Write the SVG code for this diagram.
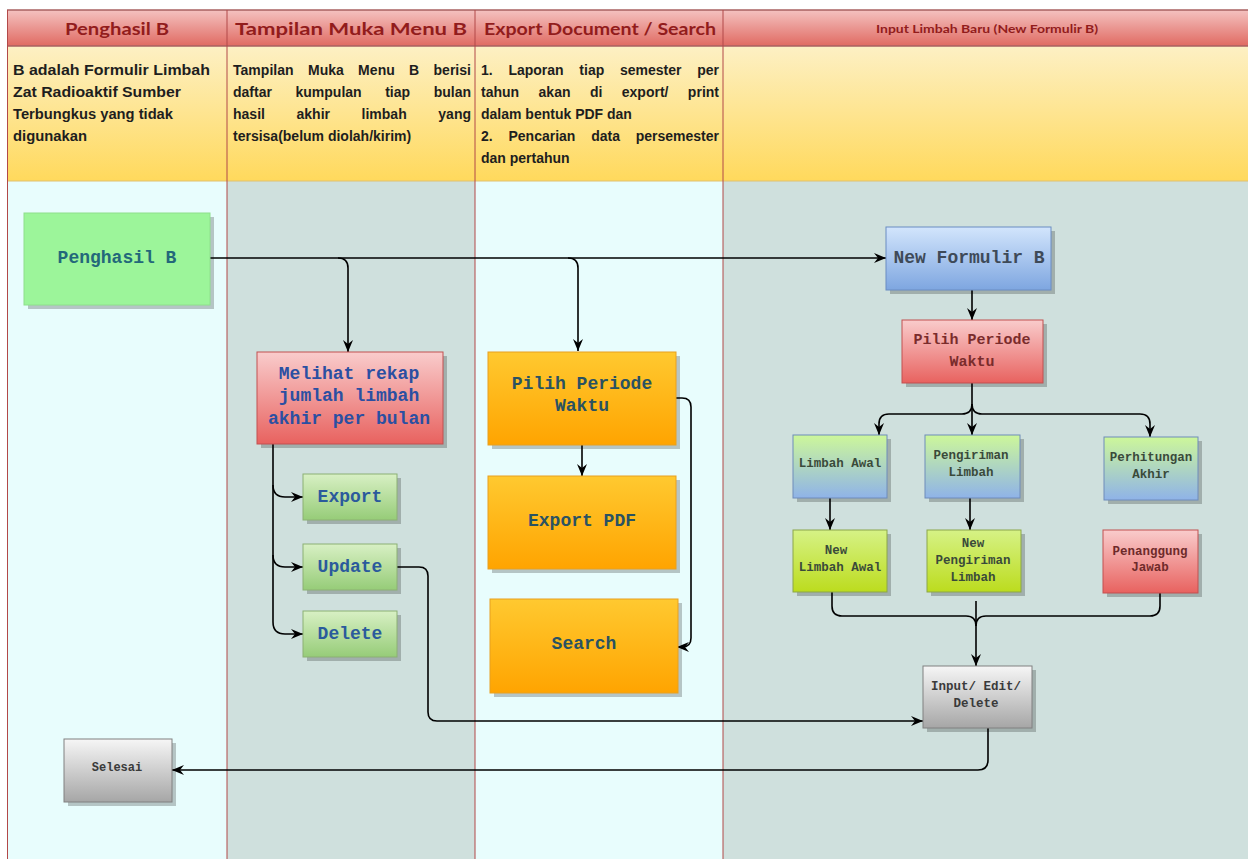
<svg xmlns="http://www.w3.org/2000/svg" width="1248" height="859" viewBox="0 0 1248 859">
<defs>
<linearGradient id="gHead" x1="0" y1="0" x2="0" y2="1"><stop offset="0" stop-color="#f4c2c0"/><stop offset="1" stop-color="#e06a62"/></linearGradient>
<linearGradient id="gDesc" x1="0" y1="0" x2="0" y2="1"><stop offset="0" stop-color="#fdf0c4"/><stop offset="1" stop-color="#ffd95c"/></linearGradient>
<linearGradient id="gRed" x1="0" y1="0" x2="0" y2="1"><stop offset="0" stop-color="#f9cccc"/><stop offset="1" stop-color="#e8625f"/></linearGradient>
<linearGradient id="gGreen" x1="0" y1="0" x2="0" y2="1"><stop offset="0" stop-color="#d8f0c4"/><stop offset="1" stop-color="#96cc78"/></linearGradient>
<linearGradient id="gOrange" x1="0" y1="0" x2="0" y2="1"><stop offset="0" stop-color="#ffc930"/><stop offset="1" stop-color="#ffa400"/></linearGradient>
<linearGradient id="gBlue" x1="0" y1="0" x2="0" y2="1"><stop offset="0" stop-color="#d2e5fc"/><stop offset="1" stop-color="#7ea6e0"/></linearGradient>
<linearGradient id="gGB" x1="0" y1="0" x2="0" y2="1"><stop offset="0" stop-color="#cdf79a"/><stop offset="1" stop-color="#8fb3e8"/></linearGradient>
<linearGradient id="gLime" x1="0" y1="0" x2="0" y2="1"><stop offset="0" stop-color="#d6f286"/><stop offset="1" stop-color="#bcdc1e"/></linearGradient>
<linearGradient id="gGray" x1="0" y1="0" x2="0" y2="1"><stop offset="0" stop-color="#f6f6f6"/><stop offset="1" stop-color="#a6a6a6"/></linearGradient>
<marker id="arr" viewBox="0 0 12 12" refX="12" refY="6" markerWidth="12" markerHeight="12" markerUnits="userSpaceOnUse" orient="auto">
<path d="M0,1 L12,6 L0,11 L4,6 z" fill="#000"/>
</marker>
<style>
.lane{stroke:#b24848;stroke-width:1}
.hd{font-family:"Lato","Open Sans","Liberation Sans",sans-serif;font-weight:bold;fill:#921c1c;text-anchor:middle}
.ds{font-family:"Liberation Sans",Arial,sans-serif;font-weight:bold;font-size:14px;fill:#1e1e1e}
.ds1{font-family:"Liberation Sans",Arial,sans-serif;font-weight:bold;font-size:14.5px;fill:#1e1e1e}
.sh{fill:#000;opacity:0.22}
.big{font-family:"Liberation Mono","Courier New",monospace;font-weight:bold;font-size:18px;text-anchor:middle}
.mid{font-family:"Liberation Mono","Courier New",monospace;font-weight:bold;font-size:15px;text-anchor:middle;fill:#7a2c2c}
.sm{font-family:"Liberation Mono","Courier New",monospace;font-weight:bold;font-size:12.5px;text-anchor:middle;fill:#3a4a3a}
.smr{fill:#6e2a2a}
.smg{fill:#3a3a3a}
.c{fill:none;stroke:#000;stroke-width:1.6}
.ca{fill:none;stroke:#000;stroke-width:1.6;marker-end:url(#arr)}
</style>
</defs>

<g id="lanes">
<rect x="7" y="181" width="220" height="678" fill="#e8fdfd"/>
<rect x="227" y="181" width="248" height="678" fill="#cfe0dd"/>
<rect x="475" y="181" width="248" height="678" fill="#e8fdfd"/>
<rect x="723" y="181" width="525" height="678" fill="#cfe0dd"/>
<rect x="7" y="10" width="1241" height="36" fill="url(#gHead)"/>
<rect x="7" y="46" width="1241" height="135" fill="url(#gDesc)"/>
<line x1="7" y1="10" x2="1248" y2="10" stroke="#a86060" stroke-width="1.5"/>
<line x1="7" y1="46" x2="1248" y2="46" stroke="#a86060" stroke-width="1.5"/>
<line x1="7" y1="181" x2="1248" y2="181" stroke="#e0c070" stroke-width="1"/>
<line class="lane" x1="7.5" y1="10" x2="7.5" y2="859"/>
<line class="lane" x1="227" y1="10" x2="227" y2="859"/>
<line class="lane" x1="475" y1="10" x2="475" y2="859"/>
<line class="lane" x1="723" y1="10" x2="723" y2="859"/>
</g>

<g id="headers">
<text class="hd" x="117" y="35" font-size="17" textLength="104" lengthAdjust="spacingAndGlyphs">Penghasil B</text>
<text class="hd" x="351" y="35" font-size="17" textLength="232" lengthAdjust="spacingAndGlyphs">Tampilan Muka Menu B</text>
<text class="hd" x="600" y="35" font-size="17" textLength="232" lengthAdjust="spacingAndGlyphs">Export Document / Search</text>
<text class="hd" x="987" y="33" font-size="10.5" textLength="222" lengthAdjust="spacingAndGlyphs">Input Limbah Baru (New Formulir B)</text>
</g>

<g id="descriptions">
<text class="ds1" x="13" y="75" textLength="197" lengthAdjust="spacingAndGlyphs">B adalah Formulir Limbah</text>
<text class="ds1" x="13" y="97" textLength="168" lengthAdjust="spacingAndGlyphs">Zat Radioaktif Sumber</text>
<text class="ds1" x="13" y="119" textLength="160" lengthAdjust="spacingAndGlyphs">Terbungkus yang tidak</text>
<text class="ds1" x="13" y="141" textLength="74" lengthAdjust="spacingAndGlyphs">digunakan</text>
<text class="ds" x="233" y="75" word-spacing="10.3" textLength="238" lengthAdjust="spacing">Tampilan Muka Menu B berisi</text>
<text class="ds" x="233" y="97" word-spacing="19.7" textLength="238" lengthAdjust="spacing">daftar kumpulan tiap bulan</text>
<text class="ds" x="233" y="119" word-spacing="27.7" textLength="238" lengthAdjust="spacing">hasil akhir limbah yang</text>
<text class="ds" x="233" y="141">tersisa(belum diolah/kirim)</text>
<text class="ds" x="481" y="75" word-spacing="11.8" textLength="238" lengthAdjust="spacing">1. Laporan tiap semester per</text>
<text class="ds" x="481" y="97" word-spacing="15.5" textLength="238" lengthAdjust="spacing">tahun akan di export/ print</text>
<text class="ds" x="481" y="119">dalam bentuk PDF dan</text>
<text class="ds" x="481" y="141" word-spacing="11.9" textLength="238" lengthAdjust="spacing">2. Pencarian data persemester</text>
<text class="ds" x="481" y="163">dan pertahun</text>
</g>

<g id="connectors">
<path class="ca" d="M210,258 H886"/>
<path class="ca" d="M338,258 Q348,258 348,268 V352"/>
<path class="ca" d="M568,258 Q578,258 578,268 V351"/>
<path class="c" d="M273,444 V622"/>
<path class="ca" d="M273,485 Q273,497 285,497 H303"/>
<path class="ca" d="M273,555 Q273,567 285,567 H303"/>
<path class="ca" d="M273,622 Q273,634 285,634 H303"/>
<path class="ca" d="M397,567 H419 Q428,567 428,576 V712 Q428,721 437,721 H923"/>
<path class="ca" d="M676,398 H682 Q691,398 691,407 V638 Q691,647 682,647 H677"/>
<path class="ca" d="M582,445 V476"/>
<path class="ca" d="M972,290 V320"/>
<path class="c" d="M972,383 V404"/>
<path class="ca" d="M972,404 Q972,414 962,414 H889 Q879,414 879,424 V435"/>
<path class="ca" d="M972,404 V435"/>
<path class="ca" d="M972,404 Q972,414 982,414 H1140 Q1150,414 1150,424 V437"/>
<path class="ca" d="M830,498 V530"/>
<path class="ca" d="M970,498 V530"/>
<path class="c" d="M832,592 V606 Q832,616 842,616 H966 Q976,616 976,626"/>
<path class="c" d="M1160,593 V606 Q1160,616 1150,616 H986 Q976,616 976,626"/>
<path class="ca" d="M976,601 V666"/>
<path class="ca" d="M988,728 V760 Q988,770 978,770 H172"/>
</g>

<g id="n_penghasil">
<rect class="sh" x="28" y="217" width="186" height="92"/>
<rect x="24" y="213" width="186" height="92" fill="#9cf59a" stroke="#8ee08c" stroke-width="1"/>
<text class="big" x="117" y="263" fill="#23687a">Penghasil B</text>
</g>
<g id="n_melihat">
<rect class="sh" x="261" y="356" width="186" height="92"/>
<rect x="257" y="352" width="186" height="92" fill="url(#gRed)" stroke="#c25050" stroke-width="1"/>
<text class="big" x="349" y="379" fill="#2b4fa2">Melihat rekap</text>
<text class="big" x="349" y="401" fill="#2b4fa2">jumlah limbah</text>
<text class="big" x="349" y="424" fill="#2b4fa2">akhir per bulan</text>
</g>
<g id="n_export">
<rect class="sh" x="307" y="478" width="94" height="46"/>
<rect x="303" y="474" width="94" height="46" fill="url(#gGreen)" stroke="#8cb074" stroke-width="1"/>
<text class="big" x="350" y="502" fill="#2b5a9c">Export</text>
</g>
<g id="n_update">
<rect class="sh" x="307" y="548" width="94" height="46"/>
<rect x="303" y="544" width="94" height="46" fill="url(#gGreen)" stroke="#8cb074" stroke-width="1"/>
<text class="big" x="350" y="572" fill="#2b5a9c">Update</text>
</g>
<g id="n_delete">
<rect class="sh" x="307" y="615" width="94" height="46"/>
<rect x="303" y="611" width="94" height="46" fill="url(#gGreen)" stroke="#8cb074" stroke-width="1"/>
<text class="big" x="350" y="639" fill="#2b5a9c">Delete</text>
</g>
<g id="n_pilih1">
<rect class="sh" x="492" y="356" width="188" height="93"/>
<rect x="488" y="352" width="188" height="93" fill="url(#gOrange)" stroke="#e8a020" stroke-width="1"/>
<text class="big" x="582" y="389" fill="#2a5262">Pilih Periode</text>
<text class="big" x="582" y="411" fill="#2a5262">Waktu</text>
</g>
<g id="n_exportpdf">
<rect class="sh" x="492" y="480" width="188" height="93"/>
<rect x="488" y="476" width="188" height="93" fill="url(#gOrange)" stroke="#e8a020" stroke-width="1"/>
<text class="big" x="582" y="526" fill="#2a5262">Export PDF</text>
</g>
<g id="n_search">
<rect class="sh" x="494" y="603" width="188" height="94"/>
<rect x="490" y="599" width="188" height="94" fill="url(#gOrange)" stroke="#e8a020" stroke-width="1"/>
<text class="big" x="584" y="649" fill="#2a5262">Search</text>
</g>
<g id="n_newformulir">
<rect class="sh" x="890" y="231" width="165" height="63"/>
<rect x="886" y="227" width="165" height="63" fill="url(#gBlue)" stroke="#6a8cc2" stroke-width="1"/>
<text class="big" x="969" y="263" fill="#3e4a58">New Formulir B</text>
</g>
<g id="n_pilih2">
<rect class="sh" x="906" y="324" width="141" height="63"/>
<rect x="902" y="320" width="141" height="63" fill="url(#gRed)" stroke="#c25050" stroke-width="1"/>
<text class="mid" x="972" y="344">Pilih Periode</text>
<text class="mid" x="972" y="366">Waktu</text>
</g>
<g id="n_limbahawal">
<rect class="sh" x="797" y="439" width="94" height="63"/>
<rect x="793" y="435" width="94" height="63" fill="url(#gGB)" stroke="#6e8cba" stroke-width="1"/>
<text class="sm" x="840" y="467">Limbah Awal</text>
</g>
<g id="n_pengiriman">
<rect class="sh" x="929" y="439" width="95" height="63"/>
<rect x="925" y="435" width="95" height="63" fill="url(#gGB)" stroke="#6e8cba" stroke-width="1"/>
<text class="sm" x="971" y="459">Pengiriman</text>
<text class="sm" x="971" y="476">Limbah</text>
</g>
<g id="n_perhitungan">
<rect class="sh" x="1108" y="441" width="94" height="63"/>
<rect x="1104" y="437" width="94" height="63" fill="url(#gGB)" stroke="#6e8cba" stroke-width="1"/>
<text class="sm" x="1151" y="461">Perhitungan</text>
<text class="sm" x="1151" y="478">Akhir</text>
</g>
<g id="n_newlimbahawal">
<rect class="sh" x="797" y="534" width="94" height="62"/>
<rect x="793" y="530" width="94" height="62" fill="url(#gLime)" stroke="#8ca64a" stroke-width="1"/>
<text class="sm" x="836" y="554">New</text>
<text class="sm" x="840" y="571">Limbah Awal</text>
</g>
<g id="n_newpengiriman">
<rect class="sh" x="931" y="534" width="94" height="62"/>
<rect x="927" y="530" width="94" height="62" fill="url(#gLime)" stroke="#8ca64a" stroke-width="1"/>
<text class="sm" x="973" y="547">New</text>
<text class="sm" x="973" y="564">Pengiriman</text>
<text class="sm" x="973" y="581">Limbah</text>
</g>
<g id="n_penanggung">
<rect class="sh" x="1107" y="534" width="95" height="63"/>
<rect x="1103" y="530" width="95" height="63" fill="url(#gRed)" stroke="#c25050" stroke-width="1"/>
<text class="sm smr" x="1150" y="555">Penanggung</text>
<text class="sm smr" x="1150" y="571">Jawab</text>
</g>
<g id="n_input">
<rect class="sh" x="927" y="670" width="109" height="62"/>
<rect x="923" y="666" width="109" height="62" fill="url(#gGray)" stroke="#808080" stroke-width="1"/>
<text class="sm smg" x="976" y="690">Input/ Edit/</text>
<text class="sm smg" x="976" y="707">Delete</text>
</g>
<g id="n_selesai">
<rect class="sh" x="68" y="743" width="108" height="63"/>
<rect x="64" y="739" width="108" height="63" fill="url(#gGray)" stroke="#808080" stroke-width="1"/>
<text class="sm smg" x="117" y="771" style="font-size:12px">Selesai</text>
</g>
</svg>
